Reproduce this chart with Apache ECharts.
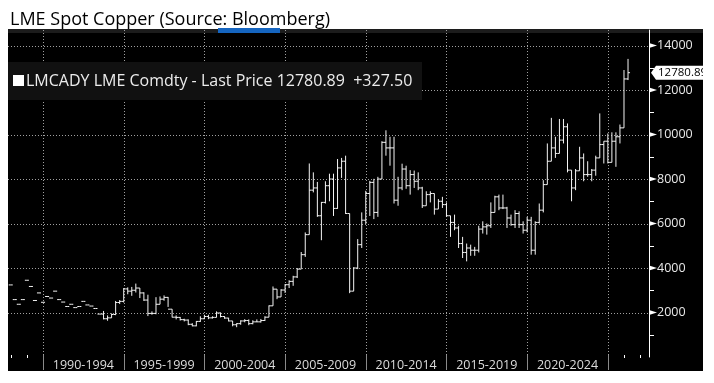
<!DOCTYPE html>
<html><head><meta charset="utf-8">
<script src="https://cdn.jsdelivr.net/npm/echarts@6/dist/echarts.min.js"></script>
<style>html,body{margin:0;padding:0;background:#fff}#c{width:714px;height:383px}</style>
</head><body><div id="c"></div>
<script>
// ---------------- DATA (quarterly OHLC, bar drawn at quarter end) ----------------
const quarters = [
'1987Q4',
'1988Q1','1988Q2','1988Q3','1988Q4','1989Q1','1989Q2','1989Q3','1989Q4',
'1990Q1','1990Q2','1990Q3','1990Q4','1991Q1','1991Q2','1991Q3','1991Q4',
'1992Q1','1992Q2','1992Q3','1992Q4','1993Q1','1993Q2','1993Q3','1993Q4',
'1994Q1','1994Q2','1994Q3','1994Q4','1995Q1','1995Q2','1995Q3','1995Q4',
'1996Q1','1996Q2','1996Q3','1996Q4','1997Q1','1997Q2','1997Q3','1997Q4',
'1998Q1','1998Q2','1998Q3','1998Q4','1999Q1','1999Q2','1999Q3','1999Q4',
'2000Q1','2000Q2','2000Q3','2000Q4','2001Q1','2001Q2','2001Q3','2001Q4',
'2002Q1','2002Q2','2002Q3','2002Q4','2003Q1','2003Q2','2003Q3','2003Q4',
'2004Q1','2004Q2','2004Q3','2004Q4','2005Q1','2005Q2','2005Q3','2005Q4',
'2006Q1','2006Q2','2006Q3','2006Q4','2007Q1','2007Q2','2007Q3','2007Q4',
'2008Q1','2008Q2','2008Q3','2008Q4','2009Q1','2009Q2','2009Q3','2009Q4',
'2010Q1','2010Q2','2010Q3','2010Q4','2011Q1','2011Q2','2011Q3','2011Q4',
'2012Q1','2012Q2','2012Q3','2012Q4','2013Q1','2013Q2','2013Q3','2013Q4',
'2014Q1','2014Q2','2014Q3','2014Q4','2015Q1','2015Q2','2015Q3','2015Q4',
'2016Q1','2016Q2','2016Q3','2016Q4','2017Q1','2017Q2','2017Q3','2017Q4',
'2018Q1','2018Q2','2018Q3','2018Q4','2019Q1','2019Q2','2019Q3','2019Q4',
'2020Q1','2020Q2','2020Q3','2020Q4','2021Q1','2021Q2','2021Q3','2021Q4',
'2022Q1','2022Q2','2022Q3','2022Q4','2023Q1','2023Q2','2023Q3','2023Q4',
'2024Q1','2024Q2','2024Q3','2024Q4','2025Q1','2025Q2','2025Q3','2025Q4',
'2026Q1'
];
const open = [
3240,
2580,2370,2580,3450,3170,2540,2880,2460,
2720,2650,2960,2580,2470,2270,2370,2220,
2270,2500,2340,2290,2180,1930,1930,1720,
1760,1910,2450,2500,3060,2960,3000,3100,
2880,2560,1960,1960,2370,2600,2680,2150,
1790,1780,1680,1660,1470,1400,1600,1720,
1820,1760,1780,1980,1820,1750,1620,1450,
1500,1620,1640,1500,1580,1580,1640,1790,
2300,3050,2700,3010,3250,3400,3600,3950,
4600,5500,7500,7600,6350,6950,7700,8000,
6680,8500,8800,6450,2960,4000,5050,6150,
7350,7850,6500,8000,9650,9400,9400,7050,
7600,8450,7700,8200,7900,7600,6800,7300,
7350,6650,7000,6850,6350,6050,5800,5100,
4700,4900,4800,4800,5750,5850,5900,6500,
7200,6700,6700,6250,5950,6450,5950,5700,
6150,4800,6050,6600,7750,8800,9400,9150,
9750,10350,8400,7600,8370,8950,8200,8200,
8400,8950,9550,9700,8750,9700,9900,10300,
12500
];
const high = [
null,
null,null,null,null,null,null,null,null,
null,null,null,null,null,null,null,null,
null,null,null,null,null,null,2070,1870,
1960,2520,2560,3100,3130,3150,3300,3100,
2910,2800,2050,2690,2720,2770,2700,2150,
1870,1800,1720,1690,1520,1620,1830,1900,
1900,1830,2050,2000,1830,1760,1620,1520,
1650,1700,1690,1650,1690,1710,1830,2320,
3170,3050,3050,3280,3450,3650,4000,4720,
5600,8700,8300,7870,6970,7900,8240,8240,
8900,8950,9050,6450,4040,5300,6500,7470,
7920,8010,8100,9700,10190,9900,9900,8100,
8690,8600,8400,8380,8300,7650,7450,7450,
7350,7100,7200,6950,6350,6400,5900,5400,
5100,5050,4950,5900,6100,6000,6950,7250,
7300,7300,6750,6400,6600,6550,6100,6300,
6300,6100,6900,7950,9600,10750,9900,10700,
10700,10500,8400,8450,9450,9150,8800,8450,
9050,10950,9700,10050,10100,10100,10450,12900,
13400
];
const low = [
null,
null,null,null,null,null,null,null,null,
null,null,null,null,null,null,null,null,
null,null,null,null,null,null,1690,1630,
1760,1880,2380,2450,2820,2750,2900,2650,
2520,1840,1900,1920,2370,2530,2250,1780,
1690,1640,1600,1430,1380,1380,1580,1700,
1700,1730,1780,1780,1720,1600,1380,1340,
1450,1560,1430,1470,1570,1550,1620,1790,
2300,2600,2700,2880,3100,3200,3550,3950,
4500,5500,7400,6300,5250,6900,7000,6340,
6660,8050,6430,2870,2960,3950,4900,5980,
6340,6200,6300,8000,9050,8600,6900,6800,
7500,7560,7300,7600,7500,6700,6800,6950,
6400,6650,6700,6300,5400,5700,4900,4450,
4300,4550,4550,4700,5550,5500,5800,6500,
6600,6650,5800,5900,5800,5800,5550,5600,
4600,4600,6000,6500,7750,8800,8950,9150,
9600,8300,7000,7500,8370,7900,8100,7900,
8150,8950,8700,8700,8750,8550,9600,10300,
12450
];
const close = [
3240,
2580,2370,2580,3450,3170,2540,2880,2460,
2720,2650,2960,2580,2470,2270,2370,2220,
2270,2500,2340,2290,2180,1930,1720,1760,
1910,2450,2500,3060,2960,3000,3100,2880,
2560,1960,1960,2370,2600,2680,2150,1790,
1780,1680,1660,1470,1400,1600,1720,1820,
1760,1780,1980,1820,1750,1620,1450,1500,
1620,1640,1500,1580,1580,1640,1790,2300,
3050,2700,3010,3250,3400,3600,3950,4600,
5500,7500,7600,6350,6950,7700,8000,6680,
8500,8800,6450,2960,4000,5050,6150,7350,
7850,6500,8000,9650,9400,9400,7050,7600,
8450,7700,8200,7900,7600,6800,7300,7350,
6650,7000,6850,6350,6050,5800,5100,4700,
4900,4800,4800,5750,5850,5900,6500,7200,
6700,6700,6250,5950,6450,5950,5700,6150,
4800,6050,6600,7750,8800,9400,9150,9750,
10350,8400,7600,8370,8950,8200,8200,8400,
8950,9550,9700,8750,9700,9900,10300,12500,
12780.89
];
const yTicks = [2000, 4000, 6000, 8000, 10000, 12000, 14000];
const bandStarts = [1990, 1995, 2000, 2005, 2010, 2015, 2020, 2025];
const bandLabels = ['1990-1994', '1995-1999', '2000-2004', '2005-2009', '2010-2014', '2015-2019', '2020-2024'];
const yearTicks = [1988, 1989, 2026, 2027];
const lastPrice = 12780.89;
const lastChange = '+327.50';
const titleText = 'LME Spot Copper (Source: Bloomberg)';
const legendText = 'LMCADY LME Comdty - Last Price ' + lastPrice.toFixed(2) + '  ' + lastChange;

// ---------------- CHART ----------------
const X_MIN = 1987.83, X_MAX = 2027.55, Y_MIN = 0, Y_MAX = 14700;
const FONT = 'Open Sans';
function qPos(label) { return +label.slice(0, 4) + (+label.slice(5)) * 0.25; }
const ohlc = quarters.map((q, i) => [qPos(q), open[i], close[i], high[i] == null ? '-' : high[i], low[i] == null ? '-' : low[i]]);

const chart = echarts.init(document.getElementById('c'), null, { renderer: 'canvas' });
const BAR = '#f4f4f4';

function renderBar(params, api) {
  const x = api.value(0);
  const o = api.value(1), c = api.value(2), h = api.value(3), l = api.value(4);
  const half = api.size([0.25, 0])[0] / 2;
  const po = api.coord([x, o]), pc = api.coord([x, c]);
  const st = { stroke: BAR, lineWidth: 1 };
  const ch = [];
  if (!isNaN(h) && !isNaN(l)) {
    const ph = api.coord([x, h]), pl = api.coord([x, l]);
    ch.push({ type: 'line', shape: { x1: ph[0], y1: ph[1], x2: pl[0], y2: pl[1] }, style: st });
  }
  ch.push({ type: 'line', shape: { x1: po[0] - half, y1: po[1], x2: po[0], y2: po[1] }, style: st });
  ch.push({ type: 'line', shape: { x1: pc[0], y1: pc[1], x2: pc[0] + half, y2: pc[1] }, style: st });
  return { type: 'group', children: ch };
}

const option = {
  backgroundColor: '#ffffff',
  animation: false,
  title: {
    text: titleText, left: 5, top: 6,
    textStyle: { color: '#000', fontSize: 18, fontWeight: 'normal', fontFamily: FONT }
  },
  grid: { left: 8, top: 30, width: 641, height: 327 },
  xAxis: {
    type: 'value', min: X_MIN, max: X_MAX,
    axisLine: { show: false }, axisTick: { show: false }, axisLabel: { show: false }, splitLine: { show: false }
  },
  yAxis: {
    type: 'value', position: 'right', min: Y_MIN, max: Y_MAX, interval: 2000,
    axisLine: { show: true, lineStyle: { color: '#ffffff', width: 1 } },
    axisTick: { show: false },
    minorTick: { show: true, splitNumber: 2, length: 5, lineStyle: { color: '#ffffff', width: 1 } },
    splitLine: { show: false },
    axisLabel: {
      color: '#e8e8e8', fontSize: 12.5, fontFamily: FONT, margin: 8,
      formatter: v => (yTicks.indexOf(v) >= 0 ? String(v) : '')
    }
  },
  graphic: [
    { type: 'rect', z: -10, shape: { x: 8, y: 29, width: 695, height: 342 }, style: { fill: '#000' } },
    { type: 'rect', z: -9, shape: { x: 8, y: 29, width: 695, height: 4 }, style: { fill: '#1c1c1c' } },
    { type: 'rect', z: -8, shape: { x: 218, y: 28, width: 62, height: 5 }, style: { fill: '#1565c0' } },
    { type: 'rect', z: 20, shape: { x: 8, y: 62, width: 414, height: 38 }, style: { fill: '#111111' } },
    { type: 'rect', z: 21, shape: { x: 13, y: 75, width: 11, height: 11 }, style: { fill: '#ffffff' } },
    { type: 'text', z: 21, x: 26, y: 81, style: { text: legendText, fill: '#ececec', font: '16px "Open Sans"', textVerticalAlign: 'middle' } },
    { type: 'rect', z: 100, shape: { x: 703, y: 0, width: 11, height: 383 }, style: { fill: '#ffffff' } }
  ],
  series: [
    { // horizontal grid lines
      type: 'custom', silent: true, clip: false, z: 1,
      data: yTicks.map(v => [X_MIN, v]), encode: { x: 0, y: 1 },
      renderItem(params, api) {
        const cs = params.coordSys;
        const y = Math.round(api.coord([X_MIN, api.value(1)])[1]) + 0.5;
        return { type: 'line', shape: { x1: cs.x, y1: y, x2: cs.x + cs.width, y2: y }, style: { stroke: '#a0a0a0', lineWidth: 1, lineDash: [1, 2] } };
      }
    },
    { // vertical grid lines + band separators
      type: 'custom', silent: true, clip: false, z: 1,
      data: bandStarts.map(v => [v, Y_MIN]), encode: { x: 0, y: 1 },
      renderItem(params, api) {
        const cs = params.coordSys;
        const x = Math.round(api.coord([api.value(0), Y_MIN])[0]) + 0.5;
        const bottom = cs.y + cs.height;
        return { type: 'group', children: [
          { type: 'line', shape: { x1: x, y1: cs.y, x2: x, y2: bottom - 2 }, style: { stroke: '#a0a0a0', lineWidth: 1, lineDash: [1, 2] } },
          { type: 'line', shape: { x1: x, y1: bottom - 2, x2: x, y2: bottom + 13 }, style: { stroke: '#8a8a8a', lineWidth: 1 } }
        ] };
      }
    },
    { // band labels
      type: 'custom', silent: true, clip: false, z: 3,
      data: bandLabels.map((t, i) => [bandStarts[i] + 2.5, Y_MIN, i]), encode: { x: 0, y: 1 },
      renderItem(params, api) {
        const cs = params.coordSys;
        const p = api.coord([api.value(0), Y_MIN]);
        return { type: 'text', x: p[0], y: cs.y + cs.height + 8, style: { text: bandLabels[api.value(2)], fill: '#dcdcdc', font: '12.5px "Open Sans"', textAlign: 'center', textVerticalAlign: 'middle' } };
      }
    },
    { // year ticks outside labelled bands
      type: 'custom', silent: true, clip: false, z: 3,
      data: yearTicks.map(v => [v, Y_MIN]), encode: { x: 0, y: 1 },
      renderItem(params, api) {
        const cs = params.coordSys;
        const x = Math.round(api.coord([api.value(0), Y_MIN])[0]) + 0.5;
        const b = cs.y + cs.height - 2;
        return { type: 'line', shape: { x1: x, y1: b, x2: x, y2: b + 3 }, style: { stroke: '#ffffff', lineWidth: 1 } };
      }
    },
    { // y-axis label flags
      type: 'custom', silent: true, clip: false, z: 5,
      data: yTicks.map(v => [X_MAX, v]), encode: { x: 0, y: 1 },
      renderItem(params, api) {
        const p = api.coord([X_MAX, api.value(1)]);
        return { type: 'polygon', shape: { points: [[p[0], p[1] - 2.5], [p[0] + 8, p[1]], [p[0], p[1] + 2.5]] }, style: { fill: '#ffffff' } };
      }
    },
    { // OHLC bars
      type: 'custom', name: 'LMCADY', silent: true, clip: true, z: 10,
      data: ohlc, encode: { x: 0, y: [1, 2] },
      renderItem: renderBar
    },
    { // last price tag
      type: 'custom', silent: true, clip: false, z: 30,
      data: [[X_MAX, lastPrice]], encode: { x: 0, y: 1 },
      renderItem(params, api) {
        const p = api.coord([X_MAX, api.value(1)]);
        const x0 = p[0] + 2, y = p[1];
        return { type: 'group', children: [
          { type: 'polygon', shape: { points: [[x0, y], [x0 + 5, y - 7], [x0 + 70, y - 7], [x0 + 70, y + 7], [x0 + 5, y + 7]] }, style: { fill: '#ffffff' } },
          { type: 'text', x: x0 + 7, y: y, style: { text: api.value(1).toFixed(2), fill: '#000', font: '11.5px "Open Sans"', textVerticalAlign: 'middle' } }
        ] };
      }
    }
  ]
};
chart.setOption(option);
</script>
</body></html>
